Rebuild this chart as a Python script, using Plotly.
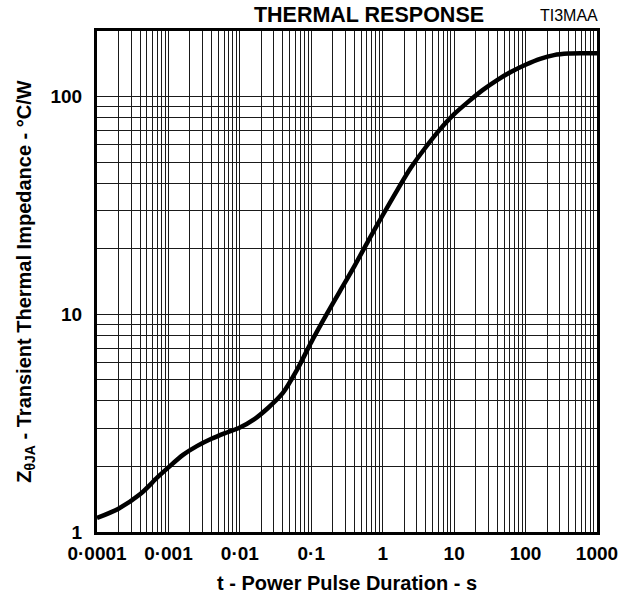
import math
import plotly.graph_objects as go

# Pulse duration (s) and transient thermal impedance (°C/W)
t_pulse = [1e-4, 2e-4, 4e-4, 7e-4, 1e-3, 1.6e-3, 2.5e-3, 4e-3, 6.3e-3, 0.01,
           0.016, 0.025, 0.04, 0.063, 0.1, 0.16, 0.25, 0.4, 0.63, 1,
           1.6, 2.5, 4, 6.3, 10, 16, 25, 40, 63, 100,
           160, 250, 400, 630, 1000]
z_theta = [1.16, 1.28, 1.49, 1.78, 1.98, 2.26, 2.48, 2.68, 2.85, 3.02,
           3.30, 3.72, 4.35, 5.55, 7.45, 9.85, 12.7, 16.6, 21.8, 28.5,
           37.2, 47.3, 58.5, 70.5, 83, 95, 107, 119, 130, 140,
           149, 155, 157.5, 158, 158]

x_tickvals = [1e-4, 1e-3, 1e-2, 1e-1, 1, 10, 100, 1000]
x_ticktext = ["0·0001", "0·001", "0·01", "0·1", "1", "10", "100", "1000"]
y_tickvals = [1, 10, 100]
y_ticktext = ["1", "10", "100"]

x_minor = [m * 10.0 ** e for e in range(-4, 3) for m in range(2, 10)]
y_minor = [m * 10.0 ** e for e in range(0, 3) for m in range(2, 10) if m * 10.0 ** e <= 200]

FONT = "Liberation Sans, Arial, Helvetica, sans-serif"

fig = go.Figure()
fig.add_trace(go.Scatter(
    x=t_pulse, y=z_theta, mode="lines",
    line=dict(color="black", width=4.5, shape="spline", smoothing=0.8),
    showlegend=False, hoverinfo="skip",
))

grid_col = "#1a1a1a"
axis_common = dict(
    type="log",
    showline=True, linecolor="black", linewidth=3, mirror=True,
    showgrid=True, gridcolor=grid_col, gridwidth=1,
    ticks="", zeroline=False,
    tickfont=dict(family=FONT, size=19, color="black", weight="bold"),
)

fig.update_xaxes(
    **axis_common,
    range=[-4, 3],
    tickmode="array", tickvals=x_tickvals, ticktext=x_ticktext,
    ticklabelstandoff=2,
    minor=dict(tickmode="array", tickvals=x_minor, showgrid=True,
               gridcolor=grid_col, gridwidth=1, ticks=""),
    title=dict(text="<b>t - Power Pulse Duration - s</b>",
               font=dict(family=FONT, size=20, color="black"), standoff=14),
)
fig.update_yaxes(
    **axis_common,
    range=[0, math.log10(200)],
    tickmode="array", tickvals=y_tickvals, ticktext=y_ticktext,
    ticklabelstandoff=8,
    minor=dict(tickmode="array", tickvals=y_minor, showgrid=True,
               gridcolor=grid_col, gridwidth=1, ticks=""),
    title=dict(text="<b>Z<sub>θJA</sub> - Transient Thermal Impedance - °C/W</b>",
               font=dict(family=FONT, size=20, color="black"), standoff=14),
)

fig.update_layout(
    width=636, height=608,
    margin=dict(l=97, r=39, t=31, b=76, autoexpand=False),
    paper_bgcolor="white", plot_bgcolor="white",
    title=dict(text="<b>THERMAL RESPONSE</b>", x=0.544, xanchor="center",
               y=1 - 14 / 608, yanchor="middle", yref="container", xref="paper",
               font=dict(family=FONT, size=21.5, color="black")),
    annotations=[dict(text="TI3MAA", xref="paper", yref="paper", x=1.006, y=1.03,
                      xanchor="right", yanchor="middle", showarrow=False,
                      font=dict(family=FONT, size=16, color="black"))],
)

fig.write_html("out.html", config={"displayModeBar": False},
               post_script="document.body.style.margin='0';")
